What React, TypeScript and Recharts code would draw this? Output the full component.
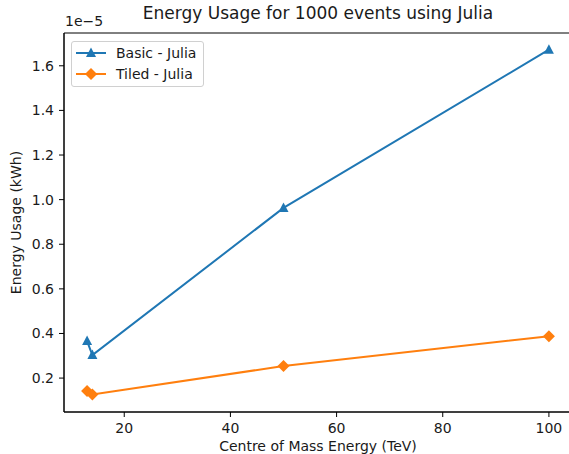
import { LineChart, Line, XAxis, YAxis, ReferenceArea, Label } from 'recharts';

// centre of mass energies (TeV)
const energies = [13, 14, 50, 100];
// energy usage, in units of 1e-5 kWh
const basicJulia = [0.366, 0.303, 0.963, 1.672];
const tiledJulia = [0.142, 0.127, 0.254, 0.388];

const xTicks = [20, 40, 60, 80, 100];
const yTicks = [0.2, 0.4, 0.6, 0.8, 1.0, 1.2, 1.4, 1.6];

const BLUE = '#1f77b4';
const ORANGE = '#ff7f0e';
const INK = '#1a1a1a';
const FONT = '"DejaVu Sans", sans-serif';
const FS = 14;

const xDomain = [8.65, 104.35];
const yDomain = [0.048, 1.747];

const data = energies.map((e, i) => ({ energy: e, basic: basicJulia[i], tiled: tiledJulia[i] }));

const Triangle = ({ cx, cy, color }: any) => (
    <polygon points={`${cx},${cy - 5.5} ${cx - 5},${cy + 4} ${cx + 5},${cy + 4}`} fill={color} />
);

const Diamond = ({ cx, cy, color }: any) => (
    <polygon points={`${cx},${cy - 6} ${cx + 6},${cy} ${cx},${cy + 6} ${cx - 6},${cy}`} fill={color} />
);

const triangleDot = (props: any) => <Triangle key={`t-${props.index}`} cx={props.cx} cy={props.cy} color={BLUE} />;
const diamondDot = (props: any) => <Diamond key={`d-${props.index}`} cx={props.cx} cy={props.cy} color={ORANGE} />;

const legendItems = [
    { label: 'Basic - Julia', color: BLUE, marker: 'tri' },
    { label: 'Tiled - Julia', color: ORANGE, marker: 'dia' },
];

const LegendBox = () => (
    <div
        style={{
            position: 'absolute',
            top: 41,
            left: 71,
            zIndex: 2,
            border: '1px solid #d0d0d0',
            borderRadius: 3,
            background: 'rgba(255,255,255,0.8)',
            padding: '0 7px 2px 4px',
            fontFamily: FONT,
            fontSize: FS,
            color: INK,
        }}
    >
        {legendItems.map((it) => (
            <div key={it.label} style={{ display: 'flex', alignItems: 'center', height: 21 }}>
                <svg width={30} height={16} style={{ marginRight: 10 }}>
                    <line x1={0} y1={8} x2={30} y2={8} stroke={it.color} strokeWidth={2} />
                    {it.marker === 'tri' ? (
                        <Triangle cx={15} cy={8} color={it.color} />
                    ) : (
                        <Diamond cx={15} cy={8} color={it.color} />
                    )}
                </svg>
                <span>{it.label}</span>
            </div>
        ))}
    </div>
);

const axisTick = { fill: INK, fontSize: FS, fontFamily: FONT };

export default function App() {
    return (
        <div style={{ position: 'absolute', left: 0, top: 0, width: 569, height: 454, overflow: 'hidden', background: '#fff' }}>
            <div
                style={{
                    position: 'absolute',
                    top: 3,
                    left: 318 - 250,
                    width: 500,
                    textAlign: 'center',
                    fontFamily: FONT,
                    fontSize: 17,
                    color: INK,
                }}
            >
                Energy Usage for 1000 events using Julia
            </div>
            <div style={{ position: 'absolute', top: 13, left: 65, fontFamily: FONT, fontSize: FS, color: INK }}>
                1e−5
            </div>
            <LegendBox />
            <LineChart width={580} height={454} data={data} margin={{ top: 33, right: 8, left: 0, bottom: 0 }}>
                <XAxis
                    dataKey="energy"
                    type="number"
                    domain={xDomain}
                    ticks={xTicks}
                    allowDataOverflow
                    height={42}
                    tickSize={5}
                    tickMargin={6}
                    stroke="#000"
                    tick={axisTick}
                >
                    <Label
                        value="Centre of Mass Energy (TeV)"
                        position="insideBottom"
                        offset={3}
                        style={{ fill: INK, fontSize: FS, fontFamily: FONT }}
                    />
                </XAxis>
                <YAxis
                    type="number"
                    domain={yDomain}
                    ticks={yTicks}
                    allowDataOverflow
                    width={64}
                    tickSize={5}
                    tickMargin={5}
                    stroke="#000"
                    tick={axisTick}
                    tickFormatter={(v: number) => v.toFixed(1)}
                >
                    <Label
                        value="Energy Usage (kWh)"
                        angle={-90}
                        position="insideLeft"
                        offset={16}
                        style={{ textAnchor: 'middle', fill: INK, fontSize: FS, fontFamily: FONT }}
                    />
                </YAxis>
                <ReferenceArea
                    x1={xDomain[0]}
                    x2={xDomain[1]}
                    y1={yDomain[0]}
                    y2={yDomain[1]}
                    fill="none"
                    stroke="#000"
                    strokeWidth={1}
                    ifOverflow="visible"
                />
                <Line
                    type="linear"
                    dataKey="basic"
                    stroke={BLUE}
                    strokeWidth={2}
                    dot={triangleDot}
                    activeDot={false}
                    isAnimationActive={false}
                />
                <Line
                    type="linear"
                    dataKey="tiled"
                    stroke={ORANGE}
                    strokeWidth={2}
                    dot={diamondDot}
                    activeDot={false}
                    isAnimationActive={false}
                />
            </LineChart>
        </div>
    );
}
